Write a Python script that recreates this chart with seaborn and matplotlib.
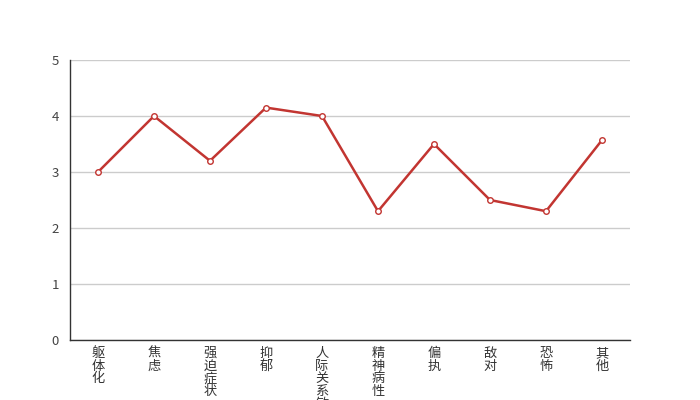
import matplotlib
matplotlib.use("Agg")
import matplotlib.pyplot as plt
import matplotlib.ticker as mticker
import seaborn as sns
import numpy as np
import pandas as pd

categories = ["躯体化", "焦虑", "强迫症状", "抑郁", "人际关系敏感", "精神病性", "偏执", "敌对", "恐怖", "其他"]
values = [3.0, 4.0, 3.2, 4.15, 4.0, 2.3, 3.5, 2.5, 2.3, 3.57]
y_ticks = [0, 1, 2, 3, 4, 5]

sns.set_style("white")
plt.rcParams['font.family'] = ['Noto Sans CJK SC', 'DejaVu Sans']

df = pd.DataFrame({"cat": categories, "val": values})

fig = plt.figure(figsize=(7, 4), dpi=100)
ax = fig.add_axes([0.1, 0.15, 0.8, 0.7])

sns.lineplot(data=df, x="cat", y="val", sort=False, ax=ax, color="#c23531",
             linewidth=1.8, marker="o", markersize=4, markerfacecolor="white",
             markeredgecolor="#c23531", markeredgewidth=1, zorder=3)

ax.set_xlim(-0.5, len(categories) - 0.5)
ax.set_ylim(0, 5)
ax.set_yticks(y_ticks)
ax.set_yticklabels([str(t) for t in y_ticks], fontsize=9.5, color="#444444")
ax.yaxis.grid(True, color="#cccccc", linewidth=1)
ax.set_axisbelow(True)

ax.set_xticks(range(len(categories)))
ax.set_xticklabels(["\n".join(c) for c in categories], fontsize=9.5, color="#333333",
                   linespacing=0.97, va="top")
ax.tick_params(axis="x", which="major", length=0, pad=5)
ax.xaxis.set_minor_locator(mticker.FixedLocator(np.arange(-0.5, len(categories), 1)))
ax.tick_params(axis="x", which="minor", length=5, color="#333333", width=1, direction="out")
ax.tick_params(axis="y", which="major", length=5, color="#333333", width=1, direction="out", pad=3)

for s in ["top", "right"]:
    ax.spines[s].set_visible(False)
for s in ["left", "bottom"]:
    ax.spines[s].set_color("#333333")
    ax.spines[s].set_linewidth(1)

ax.set_xlabel("")
ax.set_ylabel("")

fig.savefig("out.png", dpi=100)
